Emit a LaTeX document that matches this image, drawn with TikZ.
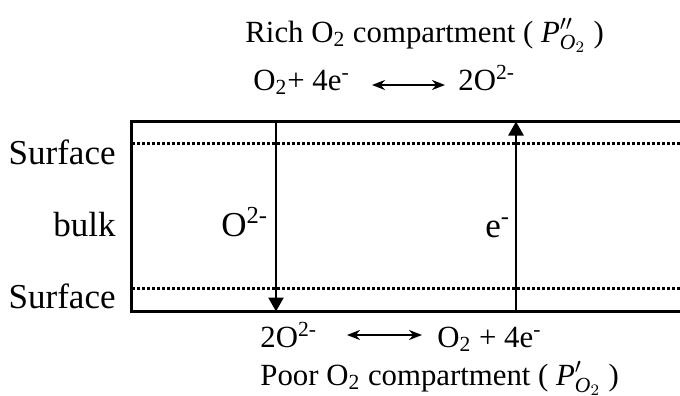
\documentclass[tikz,border=0pt]{standalone}
\usepackage{fontspec}
\usepackage{amsmath}
\setmainfont{Liberation Serif}
\usetikzlibrary{arrows.meta}
\newcommand{\Ppp}{$\text{\itshape P}^{\prime\prime}_{\text{\itshape O}_{2}}$}
\newcommand{\Pp}{$\text{\itshape P}^{\prime}_{\text{\itshape O}_{2}}$}
\begin{document}
\begin{tikzpicture}[x=0.5pt,y=-0.5pt,
  txt/.style={font=\fontsize{15.4pt}{18pt}\selectfont, inner sep=0pt},
  lbl/.style={font=\fontsize{17.5pt}{20pt}\selectfont, inner sep=0pt},
  frame/.style={line width=1.65pt},
  dotline/.style={line width=1.3pt, dash pattern=on 1.3pt off 1.2pt},
  flux/.style={line width=1.3pt, -{Triangle[length=7pt,width=7.5pt]}},
  react/.style={line width=1.3pt, {Stealth[length=6.5pt,width=5pt]}-{Stealth[length=6.5pt,width=5pt]}}]
\useasboundingbox (0,0) rectangle (680,396);
% frame
\coordinate (tl) at (131.5,121.5);
\coordinate (bl) at (131.5,311.5);
\coordinate (tr) at (682,121.5);
\coordinate (br) at (682,311.5);
\draw[frame] (tr) -- (tl) -- (bl) -- (br);
\coordinate (s1l) at (132,143.5);
\coordinate (s1r) at (680,143.5);
\coordinate (s2l) at (132,288.5);
\coordinate (s2r) at (680,288.5);
\draw[dotline] (s1l) -- (s1r);
\draw[dotline] (s2l) -- (s2r);
% side labels
\node[lbl, anchor=base east] (surf1) at (116,164) {Surface};
\node[lbl, anchor=base east] (bulk) at (116,236) {bulk};
\node[lbl, anchor=base east] (surf2) at (116,308) {Surface};
% flux arrows
\coordinate (a1t) at (276,121.5);
\coordinate (a1b) at (276,311.5);
\coordinate (a2t) at (516,121.5);
\coordinate (a2b) at (516,311.5);
\draw[flux] (a1t) -- (a1b);
\draw[flux] (a2b) -- (a2t);
\node[lbl, anchor=base west] (ox) at (221,236) {O\textsuperscript{2-}};
\node[lbl, anchor=base west] (el) at (485,237) {e\textsuperscript{-}};
% top
\node[txt, anchor=base west] (rich) at (245,42) {Rich O\textsubscript{2} compartment ( \Ppp{} )};
\node[txt, anchor=base west] (r1) at (253,90) {O\textsubscript{2}+ 4e\textsuperscript{-}};
\node[txt, anchor=base west] (r2) at (458,90) {2O\textsuperscript{2-}};
\coordinate (r1a) at (372,85);
\coordinate (r2a) at (445,85);
\draw[react] (r1a) -- (r2a);
% bottom
\node[txt, anchor=base west] (b1) at (260,347) {2O\textsuperscript{2-}};
\node[txt, anchor=base west] (b2) at (437,347) {O\textsubscript{2} + 4e\textsuperscript{-}};
\coordinate (b1a) at (347,335);
\coordinate (b2a) at (422,335);
\draw[react] (b1a) -- (b2a);
\node[txt, anchor=base west] (poor) at (260,385) {Poor O\textsubscript{2} compartment ( \Pp{} )};
\end{tikzpicture}
\end{document}
